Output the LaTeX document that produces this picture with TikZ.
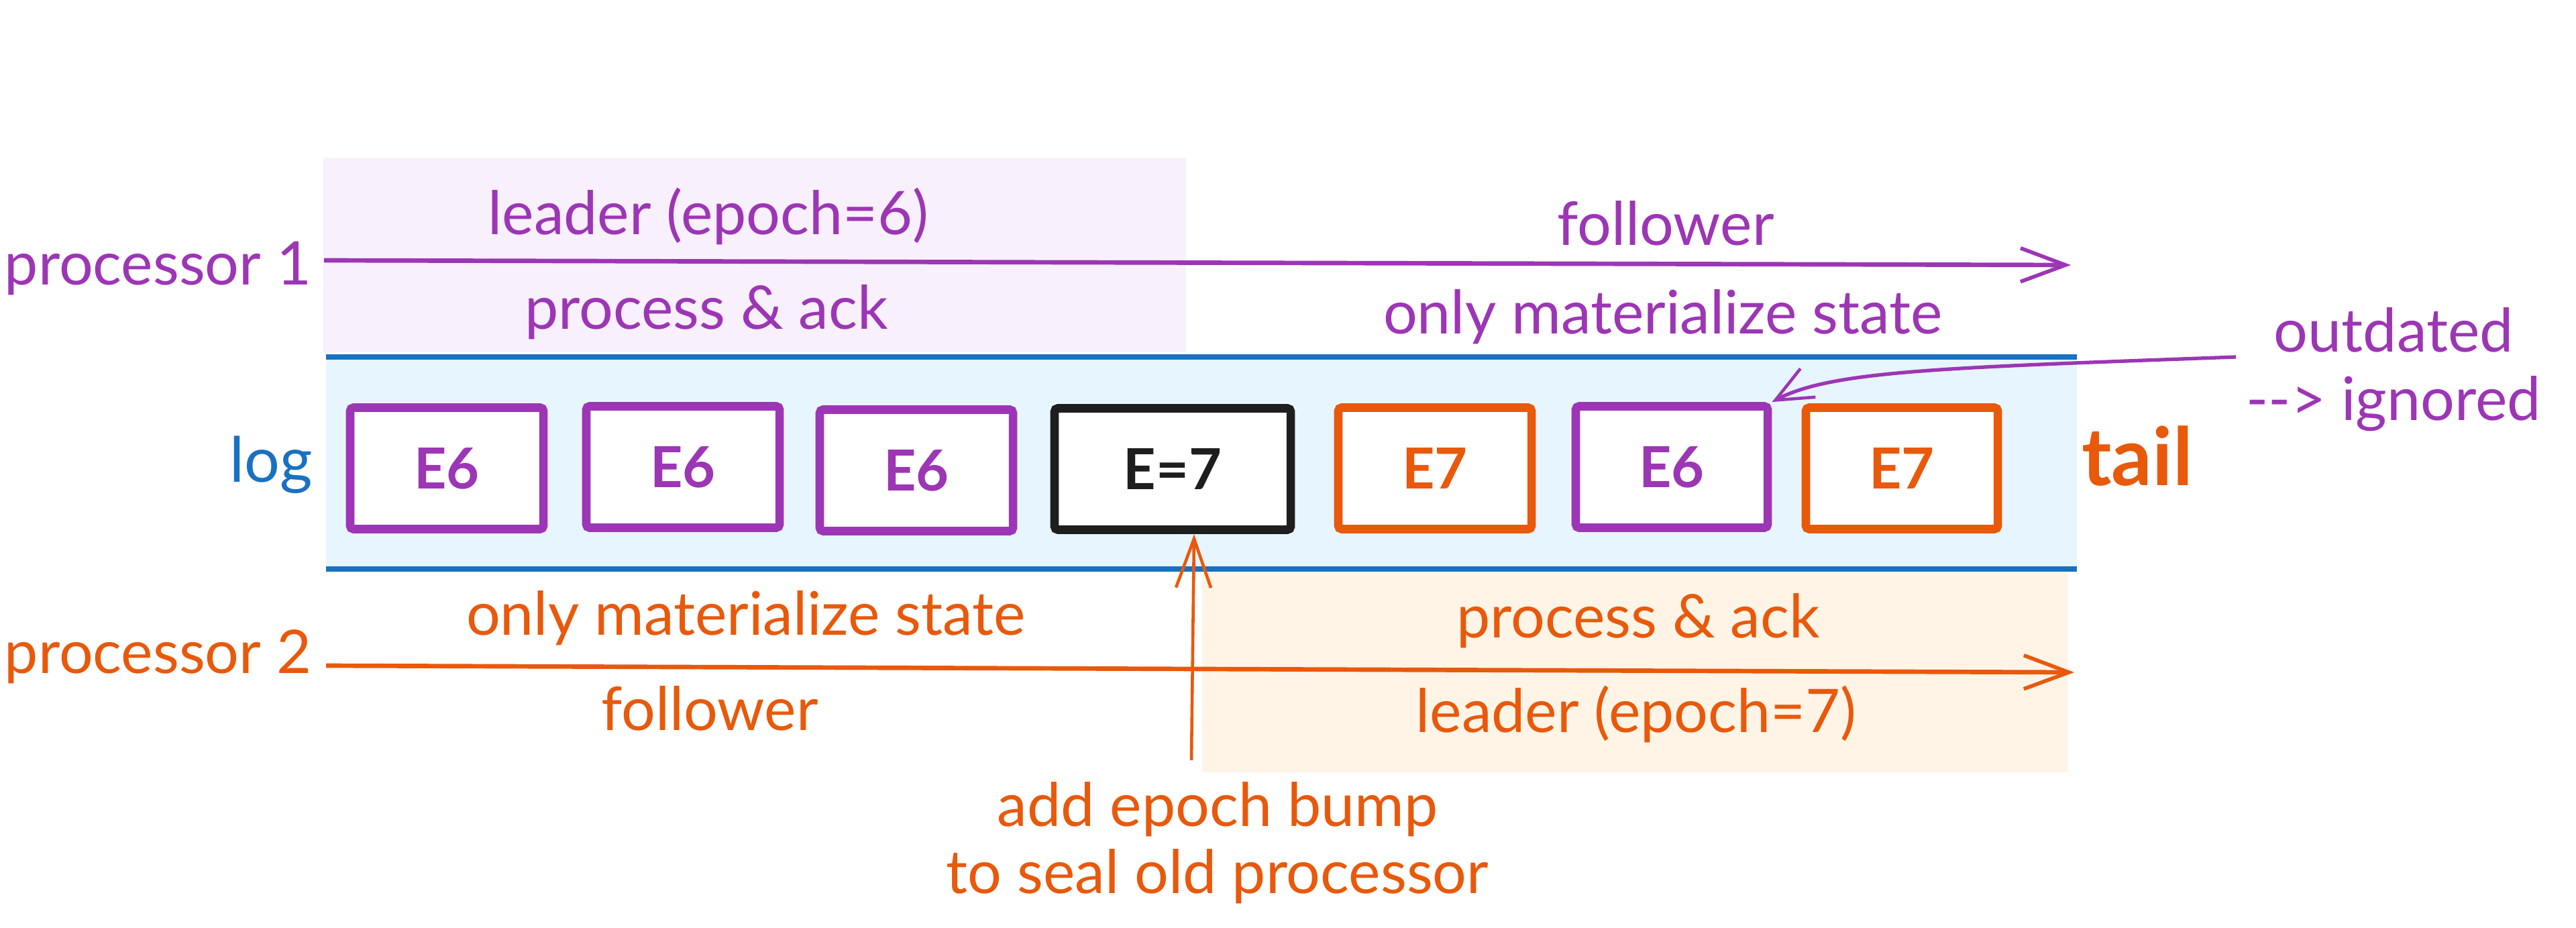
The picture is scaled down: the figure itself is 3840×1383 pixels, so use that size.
\documentclass[tikz,border=0pt]{standalone}
\usepackage{fontspec}
\setmainfont{Lato}
\usetikzlibrary{arrows.meta}
\definecolor{cpur}{HTML}{9C36B5}
\definecolor{cor}{HTML}{E8590C}
\definecolor{cblue}{HTML}{1971C2}
\definecolor{cblk}{HTML}{1E1E1E}
\definecolor{clog}{HTML}{E7F5FF}
\definecolor{cpurl}{HTML}{F8F0FC}
\definecolor{corl}{HTML}{FFF4E6}
\tikzset{
  txt/.style={font=\fontsize{25.5}{30}\selectfont, inner sep=0pt},
  logbox/.style={draw, line width=3.6pt, fill=white, rounded corners=1.5pt,
    minimum width=2.88cm, minimum height=1.81cm, inner sep=0pt,
    font=\bfseries\fontsize{24}{28}\selectfont},
  flow/.style={line width=1.9pt, -{Straight Barb[length=6.7mm, width=5mm, line width=1.6pt]}},
  rail/.style={cblue, line width=2.1pt}
}
\begin{document}
\begin{tikzpicture}[x=0.01cm, y=-0.01cm]
\useasboundingbox (0,0) rectangle (3840,1383);
% backgrounds
\fill[cpurl] (482,235) rectangle (1768,525);
\fill[corl] (1792,854) rectangle (3082,1151);
\fill[clog] (486,532) rectangle (3096,848);
\draw[rail] (486,532) -- (3096,532);
\draw[rail] (486,848) -- (3096,848);

% processor 1
\node[txt, anchor=east, text=cpur] (p1) at (465,400) {processor 1};
\coordinate (p1s) at (483,388);
\coordinate (p1e) at (3087,395);
\draw[flow, cpur] (p1s) -- (p1e);
\node[txt, text=cpur] (lead6) at (1056,322) {leader (epoch=6)};
\node[txt, text=cpur] (pa1) at (1053,465) {process \& ack};
\node[txt, text=cpur] (fol1) at (2483,333) {follower};
\node[txt, text=cpur] (oms1) at (2479,472) {only materialize state};

% processor 2
\node[txt, anchor=east, text=cor] (p2) at (465,979) {processor 2};
\coordinate (p2s) at (486,992);
\coordinate (p2e) at (3092,1002);
\draw[flow, cor] (p2s) -- (p2e);
\node[txt, text=cor] (oms2) at (1112,921) {only materialize state};
\node[txt, text=cor] (pa2) at (2442,925) {process \& ack};
\node[txt, text=cor] (fol2) at (1058,1056) {follower};
\node[txt, text=cor] (lead7) at (2439,1064) {leader (epoch=7)};

% log
\node[txt, text=cblue, font=\fontsize{26.5}{30}\selectfont] (log) at (404,693) {log};
\node[logbox, draw=cpur, text=cpur] (b1) at (666,698) {E6};
\node[logbox, draw=cpur, text=cpur] (b2) at (1018,696) {E6};
\node[logbox, draw=cpur, text=cpur] (b3) at (1366,701) {E6};
\node[logbox, draw=cblk, text=cblk, minimum width=3.52cm] (b4) at (1748,699) {E=7};
\node[logbox, draw=cor, text=cor] (b5) at (2139,698) {E7};
\node[logbox, draw=cpur, text=cpur, minimum width=2.86cm] (b6) at (2492,696) {E6};
\node[logbox, draw=cor, text=cor, minimum width=2.86cm] (b7) at (2835,698) {E7};
\node[inner sep=0pt, text=cor, font=\bfseries\fontsize{34}{40}\selectfont] (tail) at (3186,680) {tail};

% outdated annotation
\node[txt, anchor=base, text=cpur] (outd) at (3568,525) {outdated};
\node[txt, anchor=base, text=cpur] (ign) at (3568,627) {-{}-> ignored};
\coordinate (ods) at (3333,532);
\draw[cpur, line width=1.5pt, -{Straight Barb[length=5.5mm, width=4.8mm, line width=1.3pt]}]
  (ods) .. controls (2900,548) and (2730,552) .. (b6.north east);

% epoch bump
\node[txt, text=cor, align=center, font=\fontsize{25.5}{28.5}\selectfont] (bump) at (1815,1256) {add epoch bump\\to seal old processor};
\coordinate (bs) at (1776,1133);
\coordinate (bt) at (1780,796);
\draw[cor, line width=1.3pt, -{Straight Barb[length=7.3mm, width=5.2mm, line width=1.3pt]}] (bs) -- (bt);
\end{tikzpicture}
\end{document}
